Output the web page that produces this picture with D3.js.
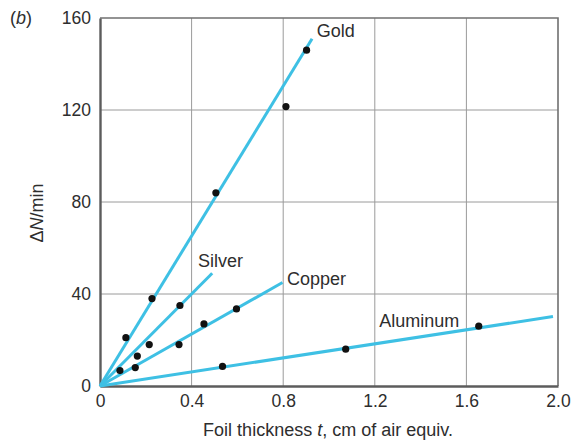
<!DOCTYPE html>
<html>
<head>
<meta charset="utf-8">
<script src="https://cdn.jsdelivr.net/npm/d3@7"></script>
<style>
  html, body { margin: 0; padding: 0; background: #fff; }
  svg { display: block; font-family: "Liberation Sans", Arial, sans-serif; }
</style>
</head>
<body>
<svg id="chart" width="575" height="444"></svg>
<script>
// ---- data ----
const seriesNames = ["Gold", "Silver", "Copper", "Aluminum"];
const goldT = [0.113, 0.227, 0.506, 0.812, 0.902];
const goldN = [21, 38, 84, 121.5, 146];
const silverT = [0.087, 0.163, 0.215, 0.349];
const silverN = [6.7, 13, 18, 35];
const copperT = [0.154, 0.345, 0.454, 0.596];
const copperN = [8, 18, 27, 33.5];
const aluminumT = [0.535, 1.073, 1.654];
const aluminumN = [8.5, 16, 26];
// fitted line end points (lines start at origin)
const lineEndT = [0.926, 0.49, 0.797, 1.978];
const lineEndN = [151, 49, 45, 30.2];
// label anchors (data coords, text baseline)
const labelT = [0.947, 0.428, 0.817, 1.219];
const labelN = [151.7, 51.9, 43.9, 25.8];
const xTicks = [0, 0.4, 0.8, 1.2, 1.6, 2.0];
const xTickLabels = ["0", "0.4", "0.8", "1.2", "1.6", "2.0"];
const yTicks = [0, 40, 80, 120, 160];
const yTickLabels = ["0", "40", "80", "120", "160"];

const pointsT = [goldT, silverT, copperT, aluminumT];
const pointsN = [goldN, silverN, copperN, aluminumN];

// ---- layout ----
const W = 575, H = 444;
const m = { left: 100, right: 17, top: 18, bottom: 58 };
const svg = d3.select("#chart");
const x = d3.scaleLinear().domain([0, 2.0]).range([m.left, W - m.right]);
const y = d3.scaleLinear().domain([0, 160]).range([H - m.bottom, m.top]);

const lineColor = "#3ec0e4";
const gridColor = "#9a9a9a";
const axisColor = "#5c5c5c";
const textColor = "#2e2e2e";
const fs = 18;

// grid
svg.append("g").selectAll("line.gx").data(xTicks.slice(1, -1)).enter().append("line")
  .attr("x1", d => x(d)).attr("x2", d => x(d))
  .attr("y1", y(0)).attr("y2", y(160))
  .attr("stroke", gridColor).attr("stroke-width", 1);
svg.append("g").selectAll("line.gy").data(yTicks.slice(1, -1)).enter().append("line")
  .attr("x1", x(0)).attr("x2", x(2.0))
  .attr("y1", d => y(d)).attr("y2", d => y(d))
  .attr("stroke", gridColor).attr("stroke-width", 1);

// frame top/right
svg.append("path")
  .attr("d", `M${x(0)},${y(160)}H${x(2.0)}V${y(0)}`)
  .attr("fill", "none").attr("stroke", "#707070").attr("stroke-width", 1.6);

// axes
const xAxis = d3.axisBottom(x).tickValues(xTicks)
  .tickFormat((d, i) => xTickLabels[i]).tickSize(0).tickPadding(9);
const yAxis = d3.axisLeft(y).tickValues(yTicks)
  .tickFormat((d, i) => yTickLabels[i]).tickSize(0).tickPadding(9);

const gx = svg.append("g").attr("transform", `translate(0,${y(0)})`).call(xAxis);
const gy = svg.append("g").attr("transform", `translate(${x(0)},0)`).call(yAxis);
[gx, gy].forEach(g => {
  g.select(".domain").attr("stroke", axisColor).attr("stroke-width", 2.4);
  g.selectAll("text").attr("font-size", 17.5).attr("fill", textColor)
    .attr("font-family", "Liberation Sans, Arial, sans-serif");
});

// fitted lines
svg.append("g").selectAll("line.fit").data(seriesNames).enter().append("line")
  .attr("x1", x(0)).attr("y1", y(0))
  .attr("x2", (d, i) => x(lineEndT[i])).attr("y2", (d, i) => y(lineEndN[i]))
  .attr("stroke", lineColor).attr("stroke-width", 3).attr("stroke-linecap", "butt");

// points
const pts = [];
pointsT.forEach((arr, s) => arr.forEach((t, j) => pts.push({ t, n: pointsN[s][j] })));
svg.append("g").selectAll("circle").data(pts).enter().append("circle")
  .attr("cx", d => x(d.t)).attr("cy", d => y(d.n)).attr("r", 3.6)
  .attr("fill", "#111");

// series labels
svg.append("g").selectAll("text").data(seriesNames).enter().append("text")
  .attr("x", (d, i) => x(labelT[i])).attr("y", (d, i) => y(labelN[i]))
  .attr("font-size", fs).attr("fill", textColor)
  .text(d => d);

// panel label
const pl = svg.append("text").attr("x", 10).attr("y", 24).attr("font-size", fs).attr("fill", textColor);
pl.append("tspan").text("(");
pl.append("tspan").attr("font-style", "italic").text("b");
pl.append("tspan").text(")");

// x title
const xt = svg.append("text").attr("x", 328).attr("y", 436)
  .attr("text-anchor", "middle").attr("font-size", fs).attr("fill", textColor);
xt.append("tspan").text("Foil thickness ");
xt.append("tspan").attr("font-style", "italic").text("t");
xt.append("tspan").text(", cm of air equiv.");

// y title
const yt = svg.append("text")
  .attr("transform", `translate(43,213) rotate(-90)`)
  .attr("text-anchor", "middle").attr("font-size", fs).attr("fill", textColor);
yt.append("tspan").text("Δ");
yt.append("tspan").attr("font-style", "italic").text("N");
yt.append("tspan").text("/min");
</script>
</body>
</html>
